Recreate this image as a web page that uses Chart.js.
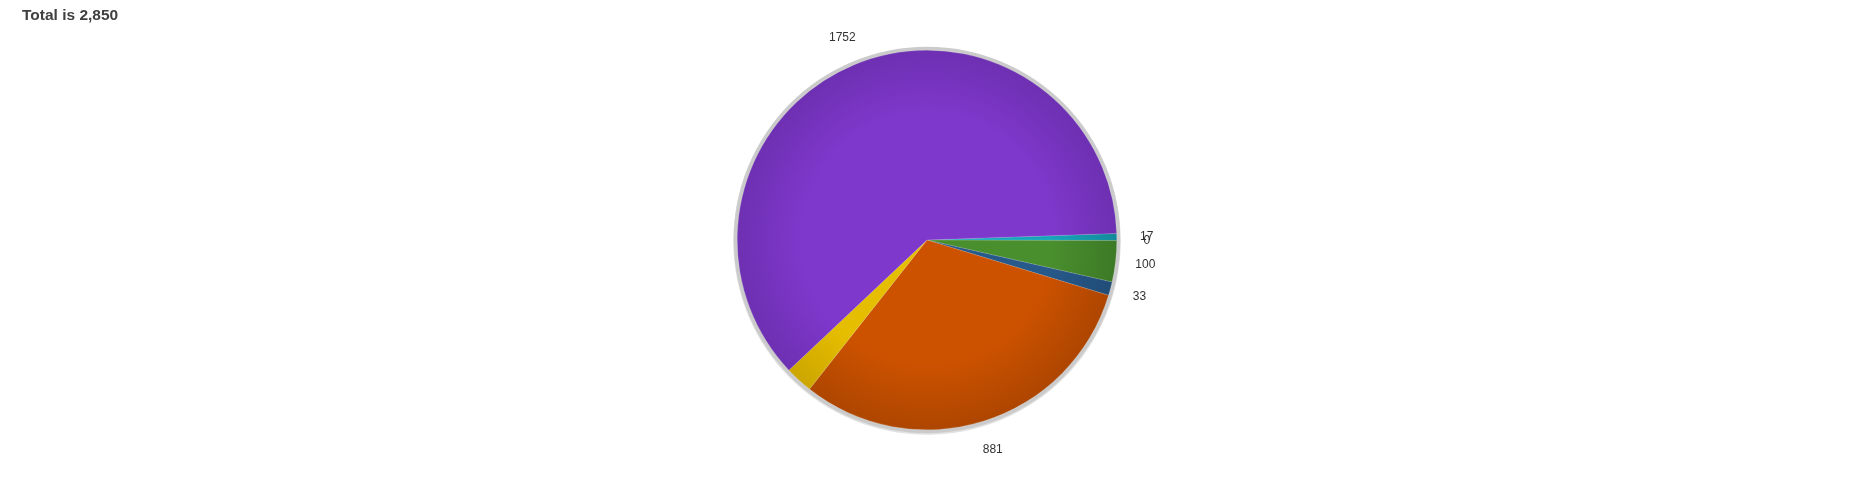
<!DOCTYPE html>
<html>
<head>
<meta charset="utf-8">
<script src="https://cdn.jsdelivr.net/npm/chart.js@4.4.1/dist/chart.umd.min.js"></script>
<style>
  html, body { margin: 0; padding: 0; background: #ffffff; }
  #wrap { width: 1857px; height: 480px; position: relative; }
</style>
</head>
<body>
<div id="wrap"><canvas id="c" width="1857" height="480"></canvas></div>
<script>
const categories = ['Category 1', 'Category 2', 'Category 3', 'Category 4', 'Category 5', 'Category 6', 'Category 7'];
const values = [17, 0, 100, 33, 881, 67, 1752];
const valueLabels = ['17', '0', '100', '33', '881', '', '1752'];
const baseColors = ['#17A5BA', '#8E2A1C', '#4A8F2E', '#27598A', '#CC5200', '#E6BE00', '#7F38CC'];
const edgeColors = ['#13899A', '#74221A', '#3D7A26', '#214D78', '#AE4600', '#CCA600', '#6E30B2'];

const total = values.reduce((a, b) => a + b, 0);
const titleText = 'Total is ' + total.toLocaleString('en-US');

function sliceFill(ctx) {
  const i = ctx.dataIndex;
  const chart = ctx.chart;
  const area = chart.chartArea;
  if (!area) return baseColors[i];
  const cx = (area.left + area.right) / 2;
  const cy = (area.top + area.bottom) / 2;
  const r = Math.min(area.right - area.left, area.bottom - area.top) / 2;
  const g = chart.ctx.createRadialGradient(cx, cy, 0, cx, cy, r);
  g.addColorStop(0, baseColors[i]);
  g.addColorStop(0.65, baseColors[i]);
  g.addColorStop(1, edgeColors[i]);
  return g;
}

const ringPlugin = {
  id: 'ring',
  beforeDatasetsDraw(chart) {
    const arc = chart.getDatasetMeta(0).data[0];
    if (!arc) return;
    const c = chart.ctx;
    c.save();
    c.beginPath();
    c.arc(arc.x, arc.y + 1, arc.outerRadius + 4, 0, Math.PI * 2);
    c.fillStyle = '#e2e2e2';
    c.fill();
    c.beginPath();
    c.arc(arc.x, arc.y, arc.outerRadius + 3.5, 0, Math.PI * 2);
    c.fillStyle = '#cbcbcb';
    c.fill();
    c.restore();
  }
};

const labelPlugin = {
  id: 'sliceLabels',
  afterDatasetsDraw(chart) {
    const meta = chart.getDatasetMeta(0);
    const c = chart.ctx;
    c.save();
    c.font = '12px "Liberation Sans", Arial, sans-serif';
    c.fillStyle = '#333333';
    c.textAlign = 'center';
    c.textBaseline = 'middle';
    meta.data.forEach((arc, i) => {
      const txt = valueLabels[i];
      if (!txt) return;
      const mid = (arc.startAngle + arc.endAngle) / 2;
      const r = arc.outerRadius + 30;
      c.fillText(txt, arc.x + Math.cos(mid) * r, arc.y + Math.sin(mid) * r);
    });
    c.restore();
  }
};

const titlePlugin = {
  id: 'leftTitle',
  afterDraw(chart) {
    const c = chart.ctx;
    c.save();
    c.font = 'bold 15.5px "Liberation Sans", Arial, sans-serif';
    c.fillStyle = '#404040';
    c.textAlign = 'left';
    c.textBaseline = 'alphabetic';
    c.fillText(titleText, 22, 20);
    c.restore();
  }
};

new Chart(document.getElementById('c'), {
  type: 'pie',
  data: {
    labels: categories,
    datasets: [{
      data: values,
      backgroundColor: sliceFill,
      borderColor: 'rgba(255,255,255,0.25)',
      borderWidth: 0.5
    }]
  },
  options: {
    responsive: false,
    animation: false,
    rotation: 88,
    layout: { padding: { top: 50, bottom: 50, left: 0, right: 3 } },
    plugins: {
      legend: { display: false },
      title: { display: false },
      tooltip: { enabled: false }
    }
  },
  plugins: [ringPlugin, labelPlugin, titlePlugin]
});
</script>
</body>
</html>
